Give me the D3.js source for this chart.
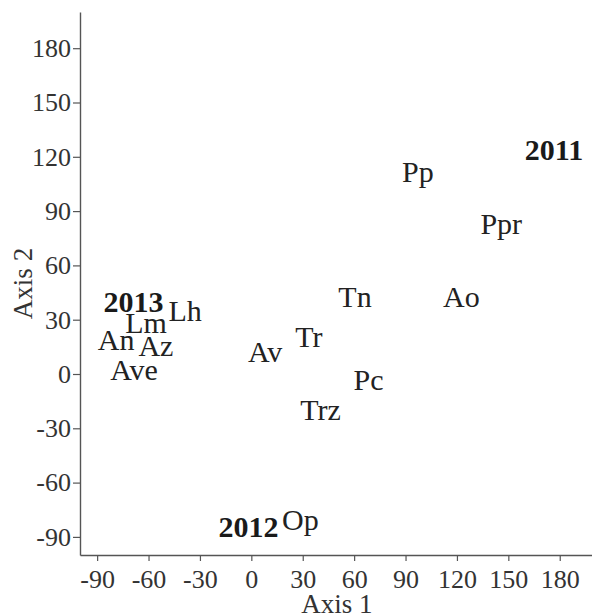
<!DOCTYPE html>
<html>
<head>
<meta charset="utf-8">
<script src="https://cdn.jsdelivr.net/npm/d3@7"></script>
<style>
  body { margin: 0; background: #fff; }
  text { font-family: "Liberation Serif", "Times New Roman", serif; }
</style>
</head>
<body>
<div id="chart"></div>
<script>
// label names and their ordination scores (axis 1, axis 2)
let labels = ["2011", "Pp", "Ppr", "Tn", "Ao", "Tr", "Pc", "Trz", "Op", "2012", "2013", "Lh", "Lm", "An", "Az", "Ave", "Av"]
let axis1 = [159.6, 88.0, 133.7, 50.8, 111.9, 25.6, 59.7, 28.6, 17.9, -19.2, -86.3, -48.4, -73.6, -89.6, -65.9, -82.4, -2.0]
let axis2 = [118.2, 106.2, 77.2, 37.2, 37.2, 14.8, -8.7, -25.3, -86.0, -90.0, 34.5, 29.5, 22.6, 13.0, 9.7, -3.2, 6.9]
let years = ["2011", "2012", "2013"]
let ticks = [-90, -60, -30, 0, 30, 60, 90, 120, 150, 180]

let width = 592, height = 616
let margin = {top: 12, right: -2, bottom: 61, left: 80}
let plot_w = width - margin.left - margin.right
let plot_h = height - margin.top - margin.bottom

let svg = d3.select("#chart")
    .append("svg")
        .attr("width", width)
        .attr("height", height)
    .append("g")
        .attr("transform", `translate(${margin.left}, ${margin.top})`)

let x = d3.scaleLinear().domain([-100, 200]).range([0, plot_w])
let y = d3.scaleLinear().domain([-100, 200]).range([plot_h, 0])

// plain hyphen for negatives, like the original
let fmt = function(d) { return String(d) }

// x axis
let xAxis = svg.append("g")
    .attr("transform", `translate(0, ${plot_h})`)
    .call(d3.axisBottom(x).tickValues(ticks).tickFormat(fmt).tickSize(6).tickSizeOuter(0).tickPadding(9))
// y axis
let yAxis = svg.append("g")
    .call(d3.axisLeft(y).tickValues(ticks).tickFormat(fmt).tickSize(7).tickSizeOuter(0).tickPadding(2))

;[xAxis, yAxis].forEach(function(a) {
    a.attr("font-family", "Liberation Serif").attr("font-size", 26)
    a.select(".domain").attr("stroke", "#555").attr("stroke-width", 1.4)
    a.selectAll(".tick line").attr("stroke", "#555").attr("stroke-width", 1.2)
    a.selectAll(".tick text").attr("fill", "#333")
})

// axis titles
svg.append("text")
    .attr("x", plot_w / 2)
    .attr("y", plot_h + 58)
    .attr("text-anchor", "middle")
    .attr("fill", "#333")
    .style("font-size", "27px")
    .text("Axis 1")

svg.append("text")
    .attr("transform", `translate(${-48}, ${plot_h / 2}) rotate(-90)`)
    .attr("text-anchor", "middle")
    .attr("fill", "#333")
    .style("font-size", "27px")
    .text("Axis 2")

// point labels
svg.selectAll("text.lbl")
    .data(labels)
    .enter()
    .append("text")
    .attr("class", "lbl")
    .attr("x", function(d, i) { return x(axis1[i]) })
    .attr("y", function(d, i) { return y(axis2[i]) })
    .attr("fill", function(d) { return years.includes(d) ? "#1a1a1a" : "#222" })
    .style("font-weight", function(d) { return years.includes(d) ? "bold" : "normal" })
    .style("font-size", "30px")
    .text(function(d) { return d })
</script>
</body>
</html>
